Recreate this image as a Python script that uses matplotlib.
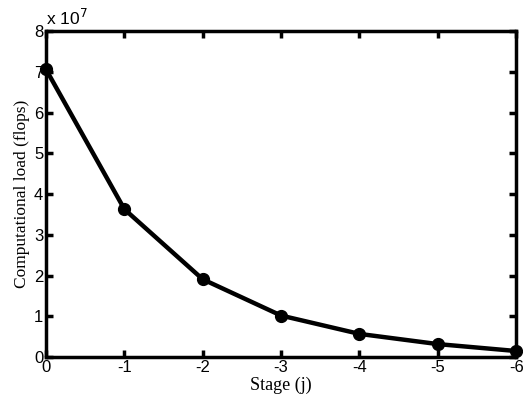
import matplotlib
matplotlib.use("Agg")
import matplotlib.pyplot as plt
from matplotlib.ticker import FuncFormatter

stages = [0, -1, -2, -3, -4, -5, -6]
load_flops = [7.06e7, 3.63e7, 1.91e7, 1.02e7, 0.57e7, 0.32e7, 0.15e7]
xticks = [0, -1, -2, -3, -4, -5, -6]
yticks = [0, 1e7, 2e7, 3e7, 4e7, 5e7, 6e7, 7e7, 8e7]

fig = plt.figure(figsize=(5.23, 4.04), dpi=100)
ax = fig.add_axes([0.088, 0.116, 0.899, 0.807])
ax.plot(stages, load_flops, color="black", lw=3.2, marker="o", markersize=8.5,
        clip_on=False, zorder=5)
ax.set_xlim(0, -6)
ax.set_ylim(0, 8e7)
ax.set_xticks(xticks)
ax.set_yticks(yticks)
ax.set_xticklabels([str(t) for t in xticks], family="Liberation Sans", fontsize=12)
ax.yaxis.set_major_formatter(FuncFormatter(lambda v, p: f"{v/1e7:.0f}"))
for lab in ax.get_yticklabels():
    lab.set_family("Liberation Sans")
    lab.set_fontsize(12)
ax.tick_params(direction="in", length=5, width=2.5, top=True, right=True, pad=2)
for s in ax.spines.values():
    s.set_linewidth(2.5)
ax.set_xlabel("Stage (j)", family="Liberation Serif", fontsize=13, labelpad=1)
ax.set_ylabel("Computational load (flops)", family="Liberation Serif", fontsize=12.5, labelpad=3)
ax.text(0.0, 1.01, "x 10$^{7}$", transform=ax.transAxes, ha="left", va="bottom",
        family="Liberation Sans", fontsize=12.5)
fig.savefig("out.png", dpi=100)
